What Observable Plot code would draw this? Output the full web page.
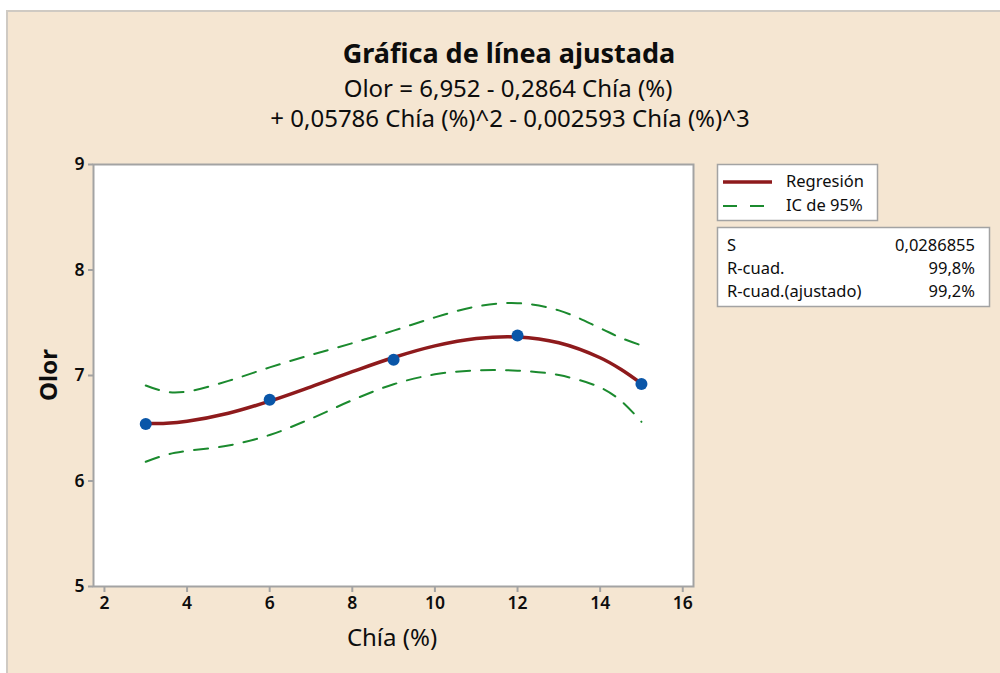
<!DOCTYPE html>
<html>
<head>
<meta charset="utf-8">
<script src="https://cdn.jsdelivr.net/npm/d3@7"></script>
<script src="https://cdn.jsdelivr.net/npm/@observablehq/plot@0.6"></script>
<style>
  html, body { margin: 0; padding: 0; background: #ffffff; }
  #wrap { position: relative; width: 1000px; height: 673px; overflow: hidden; font-family: "Noto Sans", "Open Sans", sans-serif; }
  #bg { position: absolute; left: 6px; top: 10px; right: 0; bottom: 0; background: #f5e6d2; border-left: 2px solid #cfcac3; border-top: 2px solid #cfcac3; }
  #chart { position: absolute; left: 0; top: 0; }
  #overlay { position: absolute; left: 0; top: 0; pointer-events: none; }
</style>
</head>
<body>
<div id="wrap">
  <div id="bg"></div>
  <div id="chart"></div>
  <svg id="overlay" width="1000" height="673" font-family="Noto Sans, Open Sans, sans-serif"></svg>
</div>
<script>
// ---- Data ----
const chia = [3, 6, 9, 12, 15];
const olor = [6.54, 6.77, 7.15, 7.38, 6.92];

// fitted regression line and 95% CI, read at these x positions
const fitX    = [3, 3.5, 4, 5, 6, 7, 8, 9, 10, 11, 12, 13, 14, 14.5, 15];
const fitY    = [6.544, 6.547, 6.566, 6.642, 6.757, 6.893, 7.036, 7.171, 7.281, 7.351, 7.366, 7.310, 7.168, 7.059, 6.923];
const ciUpper = [6.905, 6.845, 6.848, 6.949, 7.077, 7.195, 7.306, 7.425, 7.551, 7.654, 7.686, 7.617, 7.449, 7.357, 7.285];
const ciLower = [6.182, 6.249, 6.285, 6.336, 6.436, 6.591, 6.766, 6.917, 7.011, 7.049, 7.046, 7.004, 6.887, 6.761, 6.561];

const xTicks = [2, 4, 6, 8, 10, 12, 14, 16];
const yTicks = [5, 6, 7, 8, 9];

const titleText = "Gráfica de línea ajustada";
const subtitle1 = "Olor = 6,952 - 0,2864 Chía (%)";
const subtitle2 = "+ 0,05786 Chía (%)^2 - 0,002593 Chía (%)^3";
const xLabel = "Chía (%)";
const yLabel = "Olor";
const legendLabels = ["Regresión", "IC de 95%"];
const statNames = ["S", "R-cuad.", "R-cuad.(ajustado)"];
const statValues = ["0,0286855", "99,8%", "99,2%"];

// ---- Tables ----
const points = chia.map((x, i) => ({x, y: olor[i]}));
const fit = fitX.map((x, i) => ({x, y: fitY[i]}));
const upper = fitX.map((x, i) => ({x, y: ciUpper[i]}));
const lower = fitX.map((x, i) => ({x, y: ciLower[i]}));

const red = "#8e1a1c";
const green = "#1b8a2e";
const blue = "#0a56a8";
const gray = "#a3a3a3";
const ink = "#0d0d0d";

const chart = Plot.plot({
  width: 1000,
  height: 673,
  marginLeft: 93,
  marginRight: 307,
  marginTop: 164,
  marginBottom: 87,
  style: {background: "transparent", fontFamily: "Noto Sans, Open Sans, sans-serif", color: ink},
  x: {domain: [1.735, 16.26]},
  y: {domain: [5, 9]},
  marks: [
    Plot.frame({fill: "white", stroke: "none"}),
    Plot.line(upper, {x: "x", y: "y", stroke: green, strokeWidth: 2, strokeDasharray: "14,11", curve: "catmull-rom"}),
    Plot.line(lower, {x: "x", y: "y", stroke: green, strokeWidth: 2, strokeDasharray: "14,11", curve: "catmull-rom"}),
    Plot.line(fit, {x: "x", y: "y", stroke: red, strokeWidth: 3.5, curve: "catmull-rom"}),
    Plot.dot(points, {x: "x", y: "y", r: 6, fill: blue, stroke: "none"}),
    Plot.frame({stroke: gray, strokeWidth: 2}),
    Plot.axisX({ticks: xTicks, tickSize: 6, tickPadding: 4, fontSize: 17.5, fontWeight: 600, stroke: gray, strokeWidth: 2, label: null, tickFormat: d => String(d)}),
    Plot.axisY({ticks: yTicks, tickSize: 5, tickPadding: 4, fontSize: 17.5, fontWeight: 600, stroke: gray, strokeWidth: 2, label: null, tickFormat: d => String(d)})
  ]
});
document.getElementById("chart").appendChild(chart);

// ---- Overlay text (title, axis labels, legend) ----
const svg = d3.select("#overlay");
svg.append("text").attr("x", 509).attr("y", 63).attr("text-anchor", "middle")
  .attr("font-size", 27).attr("font-weight", "bold").attr("fill", ink).text(titleText);
svg.append("text").attr("x", 508).attr("y", 97).attr("text-anchor", "middle")
  .attr("font-size", 24).attr("fill", ink).text(subtitle1);
svg.append("text").attr("x", 510).attr("y", 127).attr("text-anchor", "middle")
  .attr("font-size", 24).attr("fill", ink).text(subtitle2);

svg.append("text").attr("x", 392).attr("y", 646).attr("text-anchor", "middle")
  .attr("font-size", 24).attr("fill", ink).text(xLabel);
svg.append("text").attr("transform", "translate(57,375) rotate(-90)").attr("text-anchor", "middle")
  .attr("font-size", 24).attr("font-weight", "bold").attr("fill", ink).text(yLabel);

// legend box 1
svg.append("rect").attr("x", 717.5).attr("y", 164.5).attr("width", 160).attr("height", 56)
  .attr("fill", "white").attr("stroke", gray).attr("stroke-width", 1.5);
svg.append("line").attr("x1", 723).attr("x2", 772).attr("y1", 182).attr("y2", 182)
  .attr("stroke", red).attr("stroke-width", 3.5);
svg.append("line").attr("x1", 723).attr("x2", 772).attr("y1", 206).attr("y2", 206)
  .attr("stroke", green).attr("stroke-width", 2).attr("stroke-dasharray", "14,13");
svg.append("text").attr("x", 786).attr("y", 187).attr("font-size", 16.5).attr("fill", ink).text(legendLabels[0]);
svg.append("text").attr("x", 786).attr("y", 211).attr("font-size", 16.5).attr("fill", ink).text(legendLabels[1]);

// legend box 2
svg.append("rect").attr("x", 717.5).attr("y", 227.5).attr("width", 272).attr("height", 79)
  .attr("fill", "white").attr("stroke", gray).attr("stroke-width", 1.5);
const rowY = [251, 274, 297];
statNames.forEach((n, i) => {
  svg.append("text").attr("x", 727).attr("y", rowY[i]).attr("font-size", 16.5).attr("fill", ink).text(n);
  svg.append("text").attr("x", 975).attr("y", rowY[i]).attr("text-anchor", "end").attr("font-size", 16.5).attr("fill", ink).text(statValues[i]);
});
</script>
</body>
</html>
